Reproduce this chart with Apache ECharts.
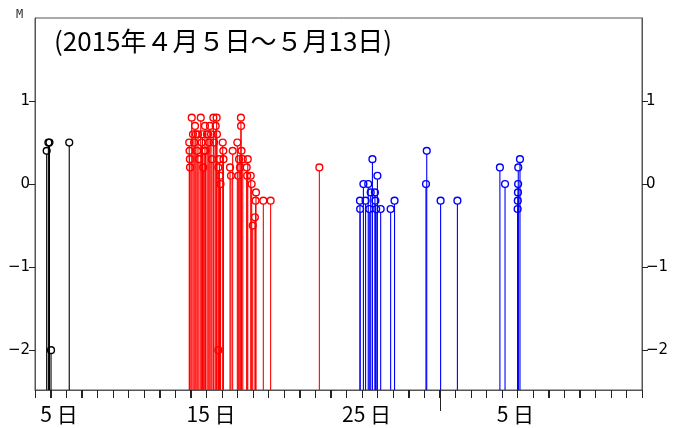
<!DOCTYPE html>
<html>
<head>
<meta charset="utf-8">
<script src="https://cdn.jsdelivr.net/npm/echarts@6/dist/echarts.min.js"></script>
<style>
html,body{margin:0;padding:0;background:#fff;}
#chart{width:682px;height:428px;}
</style>
</head>
<body>
<div id="chart"></div>
<script>
// Elapsed days since 2015-04-05 00:00 and magnitudes
const blackDays = [0.75, 0.86, 0.93, 1.03, 2.20];
const blackMag  = [0.4, 0.5, 0.5, -2.0, 0.5];

const redDays = [9.91, 9.93, 9.95, 9.96, 10.07, 10.15, 10.22, 10.28, 10.34, 10.41, 10.47, 10.54,
  10.65, 10.71, 10.76, 10.81, 10.86, 10.92, 10.95, 11.05, 11.12, 11.18, 11.24, 11.31, 11.37,
  11.46, 11.50, 11.61, 11.67, 11.69, 11.78, 11.78, 11.85, 11.89, 11.92, 12.06, 12.10, 12.11,
  12.53, 12.59, 12.70, 13.00, 13.06, 13.11, 13.17, 13.23, 13.24, 13.27, 13.35, 13.60, 13.63,
  13.67, 13.86, 13.92, 13.99, 14.13, 14.17, 14.20, 14.67, 15.14, 18.27];
const redMag = [0.5, 0.4, 0.3, 0.2, 0.8, 0.6, 0.5, 0.7, 0.6, 0.4, 0.6, 0.3,
  0.8, 0.5, 0.6, 0.2, 0.4, 0.7, 0.4, 0.6, 0.6, 0.5, 0.7, 0.6, 0.3,
  0.8, 0.5, 0.7, 0.8, 0.6, 0.2, -2.0, 0.3, 0.1, 0.0, 0.5, 0.4, 0.3,
  0.2, 0.1, 0.4, 0.5, 0.1, 0.3, 0.2, 0.8, 0.7, 0.4, 0.3, 0.2, 0.1,
  0.3, 0.1, 0.0, -0.5, -0.4, -0.2, -0.1, -0.2, -0.2, 0.2];

const blueDays = [20.88, 20.89, 21.10, 21.24, 21.41, 21.48, 21.57, 21.68, 21.84, 21.87, 21.92,
  22.00, 22.21, 22.85, 23.10, 25.12, 25.17, 26.06, 27.14, 29.87, 30.20,
  31.01, 31.02, 31.03, 31.04, 31.05, 31.16];
const blueMag = [-0.2, -0.3, 0.0, -0.2, 0.0, -0.3, -0.1, 0.3, -0.1, -0.2, -0.3,
  0.1, -0.3, -0.3, -0.2, 0.0, 0.4, -0.2, -0.2, 0.2, 0.0,
  -0.3, -0.2, -0.1, 0.0, 0.2, 0.3];

// Axis labels
const xLabelPos = [1.54, 11.31, 21.3, 30.86];
const xLabelText = ['5 日', '15 日', '25 日', '5 日'];
const monthTick = [26];
const yTicks = [-2, -1, 0, 1];
const titleText = '(2015年４月５日～５月13日)';

const Y_MIN = -2.48, Y_MAX = 2, X_MIN = 0, X_MAX = 39;

function zip(a, b){ return a.map((v,i)=>[v, b[i]]); }

function stemRender(color){
  return function(params, api){
    const x = api.value(0), m = api.value(1);
    const p = api.coord([x, m]);
    const b = api.coord([x, Y_MIN]);
    const r = 3.4;
    return {type:'group', children:[
      {type:'line', shape:{x1:p[0], y1:b[1], x2:p[0], y2:p[1]+r}, style:{stroke:color, lineWidth:1.1}},
      {type:'circle', shape:{cx:p[0], cy:p[1], r:r}, style:{fill:'none', stroke:color, lineWidth:1.4}}
    ]};
  };
}

// ticks below the time axis: daily ticks and a long one at the month boundary
function tickRender(params, api){
  const b = api.coord([api.value(0), Y_MIN]);
  const len = api.value(2);
  const x = Math.round(b[0]) + 0.5;
  const y0 = Math.round(b[1]);
  return {type:'line', shape:{x1:x, y1:y0, x2:x, y2:y0 + len}, style:{stroke:'#222', lineWidth:1}, zlevel:1, z:100};
}

const dayTicks = [];
for (let d = X_MIN; d <= X_MAX; d++) dayTicks.push(d);
const tickData = dayTicks.map(d => [d, Y_MIN, monthTick.indexOf(d) >= 0 ? 21 : 8]);

const yLabelFmt = v => (v < 0 ? '−' + Math.abs(v) : String(v));

const chart = echarts.init(document.getElementById('chart'), null, {renderer:'canvas'});
chart.setOption({
  animation:false,
  backgroundColor:'#fff',
  title:[
    {text:'M', left:16, top:9, padding:0, textStyle:{fontFamily:'DejaVu Sans Mono', fontSize:12, fontWeight:'normal', color:'#333'}},
    {text:titleText, left:54, top:28, padding:0, textStyle:{fontFamily:'Noto Sans CJK JP', fontSize:26, fontWeight:'normal', color:'#000'}}
  ],
  grid:{left:35, right:40, top:18, bottom:38, show:true, borderColor:'#555', borderWidth:1, containLabel:false},
  xAxis:[
    {type:'value', min:X_MIN, max:X_MAX, position:'bottom',
     axisLine:{show:true, onZero:false, lineStyle:{color:'#555', width:1}},
     axisTick:{show:true, inside:false, customValues:dayTicks, length:8, lineStyle:{color:'#222', width:1}},
     axisLabel:{show:true, customValues:xLabelPos, margin:14, fontFamily:'Noto Sans CJK JP', fontSize:21, color:'#000',
       formatter:function(v){ const i = xLabelPos.findIndex(p=>Math.abs(p-v)<1e-6); return i>=0 ? xLabelText[i] : ''; }},
     splitLine:{show:false}}
  ],
  yAxis:[
    {type:'value', min:Y_MIN, max:Y_MAX, position:'left',
     axisLine:{show:true, onZero:false, lineStyle:{color:'#555'}},
     axisTick:{show:true, customValues:yTicks, length:6, lineStyle:{color:'#222'}},
     axisLabel:{customValues:yTicks, margin:5, fontFamily:'DejaVu Sans', fontSize:15, color:'#000', formatter:yLabelFmt},
     splitLine:{show:false}},
    {type:'value', min:Y_MIN, max:Y_MAX, position:'right',
     axisLine:{show:true, onZero:false, lineStyle:{color:'#555'}},
     axisTick:{show:true, customValues:yTicks, length:6, lineStyle:{color:'#222'}},
     axisLabel:{customValues:yTicks, margin:4, fontFamily:'DejaVu Sans', fontSize:15, color:'#000', formatter:yLabelFmt},
     splitLine:{show:false}}
  ],
  series:[
    {type:'custom', name:'black', renderItem:stemRender('#000'), data:zip(blackDays, blackMag), encode:{x:0,y:1}, clip:true},
    {type:'custom', name:'red', renderItem:stemRender('#ff0000'), data:zip(redDays, redMag), encode:{x:0,y:1}, clip:true},
    {type:'custom', name:'blue', renderItem:stemRender('#0000ff'), data:zip(blueDays, blueMag), encode:{x:0,y:1}, clip:true},
    {type:'custom', name:'ticks', renderItem:tickRender, data:tickData, encode:{x:0,y:1}, clip:false, silent:true, zlevel:1, z:100}
  ]
});
</script>
</body>
</html>
